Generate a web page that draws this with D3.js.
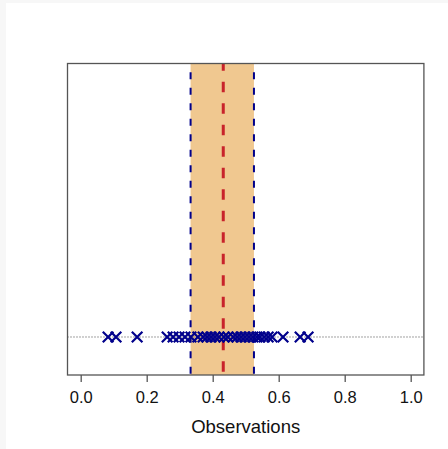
<!DOCTYPE html>
<html>
<head>
<meta charset="utf-8">
<script src="https://cdn.jsdelivr.net/npm/d3@7"></script>
<style>
  body { margin: 0; background: #f7f7f7; }
  svg { display: block; }
</style>
</head>
<body>
<div id="chart"></div>
<script>
// observations
var observations = [0.083, 0.107, 0.171, 0.262, 0.280, 0.298, 0.316, 0.334, 0.355, 0.371,
                    0.383, 0.395, 0.407, 0.419, 0.434, 0.446, 0.462, 0.474, 0.486, 0.498,
                    0.510, 0.522, 0.534, 0.543, 0.556, 0.568, 0.580, 0.613, 0.665, 0.689];
var intervalBounds = [0.333, 0.525];
var centerValue = 0.432;
var tickValues = [0, 0.2, 0.4, 0.6, 0.8, 1.0];
var xLabel = "Observations";

var W = 448, H = 449;
var box = {left: 67.5, right: 423.9, top: 63.5, bottom: 375};

var svg = d3.select("#chart").append("svg")
    .attr("width", W)
    .attr("height", H)
    .style("font-family", "'Liberation Sans', Arial, sans-serif");

// white page area
svg.append("rect")
    .attr("x", 6).attr("y", 3)
    .attr("width", W - 6).attr("height", H - 3)
    .attr("fill", "#fff");

var x = d3.scaleLinear()
    .domain([-0.04, 1.04])
    .range([box.left, box.right]);

var y = d3.scaleLinear()
    .domain([-0.122, 0.878])
    .range([box.bottom, box.top]);

// shaded interval
svg.append("rect")
    .attr("x", x(intervalBounds[0]))
    .attr("y", box.top)
    .attr("width", x(intervalBounds[1]) - x(intervalBounds[0]))
    .attr("height", box.bottom - box.top)
    .attr("fill", "#f0c890");

// dotted baseline through the points
svg.append("line")
    .attr("x1", box.left).attr("x2", box.right)
    .attr("y1", y(0)).attr("y2", y(0))
    .attr("stroke", "#444")
    .attr("stroke-width", 1)
    .attr("stroke-dasharray", "1,2");

// interval edges
svg.selectAll("line.edge")
  .data(intervalBounds)
  .enter()
  .append("line")
    .attr("class", "edge")
    .attr("x1", function(d) { return x(d); })
    .attr("x2", function(d) { return x(d); })
    .attr("y1", box.top).attr("y2", box.bottom)
    .attr("stroke", "#00008b")
    .attr("stroke-width", 2)
    .attr("stroke-dasharray", "7,8.5")
    .attr("stroke-dashoffset", 6.7);

// centre line
svg.append("line")
    .attr("x1", x(centerValue)).attr("x2", x(centerValue))
    .attr("y1", box.top).attr("y2", box.bottom)
    .attr("stroke", "#c8232b")
    .attr("stroke-width", 3)
    .attr("stroke-dasharray", "10.5,11")
    .attr("stroke-dashoffset", 3.3);

// crosses
var s = 5.3;
svg.selectAll("path.obs")
  .data(observations)
  .enter()
  .append("path")
    .attr("class", "obs")
    .attr("d", function(d) {
      var cx = x(d), cy = y(0);
      return "M" + (cx - s) + "," + (cy - s) + "L" + (cx + s) + "," + (cy + s) +
             "M" + (cx - s) + "," + (cy + s) + "L" + (cx + s) + "," + (cy - s);
    })
    .attr("fill", "none")
    .attr("stroke", "#00008b")
    .attr("stroke-width", 2.2);

// plot box
svg.append("rect")
    .attr("x", box.left).attr("y", box.top)
    .attr("width", box.right - box.left)
    .attr("height", box.bottom - box.top)
    .attr("fill", "none")
    .attr("stroke", "#555")
    .attr("stroke-width", 1.3);

// x axis
var gx = svg.append("g")
    .attr("transform", "translate(0," + box.bottom + ")")
    .call(d3.axisBottom(x)
      .tickValues(tickValues)
      .tickFormat(d3.format(".1f"))
      .tickSize(7)
      .tickPadding(9));
gx.select(".domain").remove();
gx.selectAll(".tick line").attr("stroke", "#555").attr("stroke-width", 1.3);
gx.selectAll(".tick text")
    .attr("fill", "#111")
    .style("font-size", "16.5px")
    .style("font-family", "'Liberation Sans', Arial, sans-serif");

svg.append("text")
    .attr("x", (box.left + box.right) / 2)
    .attr("y", 432.7)
    .attr("text-anchor", "middle")
    .attr("fill", "#111")
    .style("font-size", "18.5px")
    .text(xLabel);
</script>
</body>
</html>
